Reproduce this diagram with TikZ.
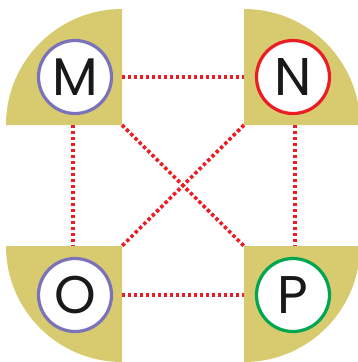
\documentclass[tikz,border=0pt]{standalone}
\usepackage{fontspec}
\setmainfont{Poppins}
\definecolor{khaki}{RGB}{216,203,111}
\definecolor{purp}{RGB}{123,115,185}
\definecolor{redd}{RGB}{236,28,36}
\definecolor{grn}{RGB}{0,166,80}
\tikzset{
  quarter/.style={fill=khaki},
  letter/.style={circle, fill=white, line width=3.2pt, minimum size=73pt, inner sep=0pt, font=\fontsize{53}{53}\selectfont, text=black!90},
  link/.style={draw=redd, line width=3.6pt, dash pattern=on 3.4pt off 2.6pt}
}
\begin{document}
\begin{tikzpicture}[x=1pt,y=-1pt]
\useasboundingbox (0,0) rectangle (358,362);
\coordinate (cM) at (122,125);
\coordinate (cN) at (244,125);
\coordinate (cO) at (122,246);
\coordinate (cP) at (244,246);
\fill[quarter] (cM) -- ++(-116,0) arc[start angle=180,end angle=270,radius=116] -- cycle;
\fill[quarter] (cN) -- ++(0,-116) arc[start angle=270,end angle=360,radius=116] -- cycle;
\fill[quarter] (cO) -- ++(-116,0) arc[start angle=180,end angle=90,radius=116] -- cycle;
\fill[quarter] (cP) -- ++(0,116) arc[start angle=90,end angle=0,radius=116] -- cycle;
\node[letter, draw=purp] (M) at (75,77) {M};
\node[letter, draw=redd] (N) at (293,77) {N};
\node[letter, draw=purp] (O) at (75,295) {O};
\node[letter, draw=grn] (P) at (293,295) {P};
\draw[link] (M -| cM) -- (M -| cN);
\draw[link] (O -| cO) -- (O -| cP);
\draw[link] ([xshift=-2pt]M |- cM) -- ([xshift=-2pt]M |- cO);
\draw[link] ([xshift=2pt]N |- cN) -- ([xshift=2pt]N |- cP);
\draw[link] (cM) -- (cP);
\draw[link] (cN) -- (cO);
\end{tikzpicture}
\end{document}
